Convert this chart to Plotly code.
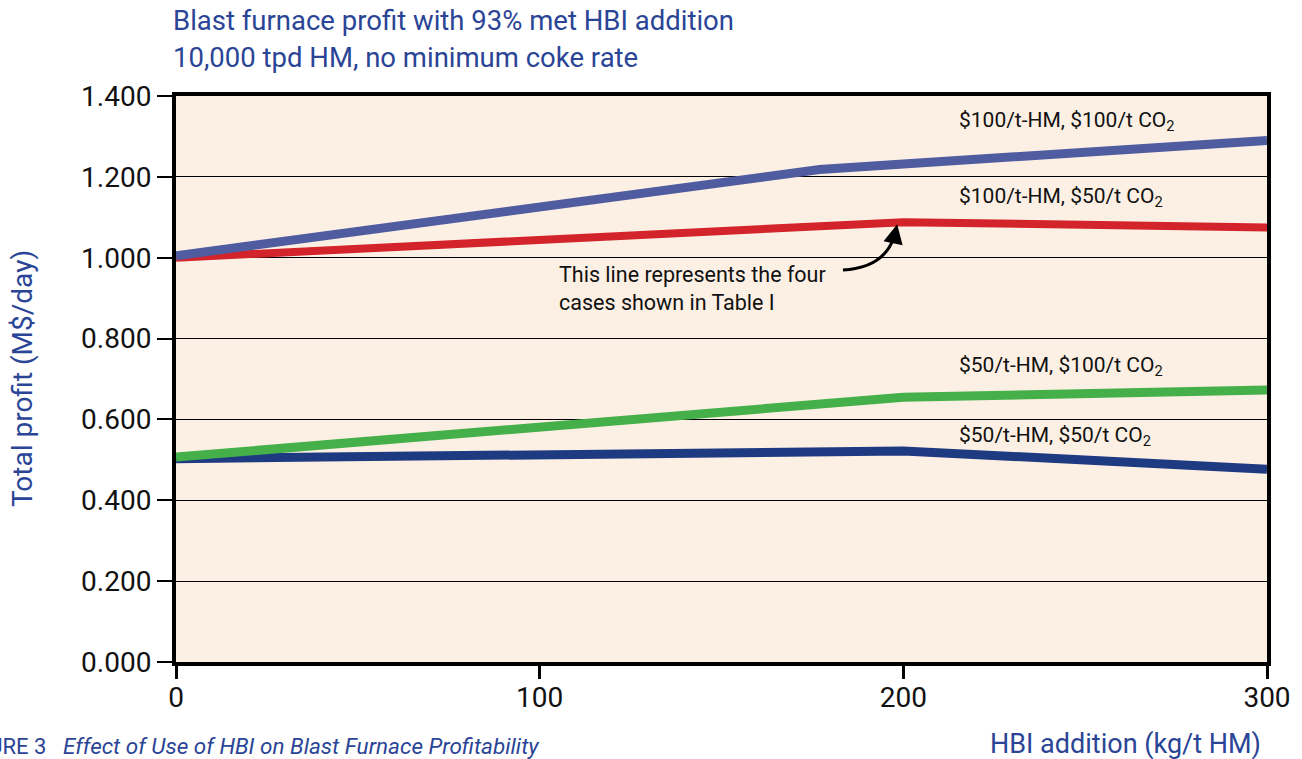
import plotly.graph_objects as go

# Data
hbi_blue = [0, 177, 200, 300]
profit_100_100 = [1.005, 1.218, 1.232, 1.290]
hbi = [0, 200, 300]
profit_100_50 = [1.000, 1.088, 1.075]
profit_50_100 = [0.507, 0.655, 0.673]
profit_50_50 = [0.503, 0.522, 0.477]

y_ticks = [0, 0.2, 0.4, 0.6, 0.8, 1.0, 1.2, 1.4]
x_ticks = [0, 100, 200, 300]

series_labels = [
    "$100/t-HM, $100/t CO<sub>2</sub>",
    "$100/t-HM, $50/t CO<sub>2</sub>",
    "$50/t-HM, $100/t CO<sub>2</sub>",
    "$50/t-HM, $50/t CO<sub>2</sub>",
]

FONT = "Roboto"
BLUE_TXT = "#2B4596"

fig = go.Figure()
fig.add_trace(go.Scatter(x=hbi, y=profit_100_50, mode="lines",
                         line=dict(color="#D3232B", width=8), name=series_labels[1]))
fig.add_trace(go.Scatter(x=hbi_blue, y=profit_100_100, mode="lines",
                         line=dict(color="#505CA0", width=9), name=series_labels[0]))
fig.add_trace(go.Scatter(x=hbi, y=profit_50_50, mode="lines",
                         line=dict(color="#1E3A80", width=9), name=series_labels[3]))
fig.add_trace(go.Scatter(x=hbi, y=profit_50_100, mode="lines",
                         line=dict(color="#45B04A", width=9), name=series_labels[2]))

# series labels
label_pos = [(214.8, 1.336), (214.8, 1.148), (214.8, 0.730), (214.8, 0.557)]
for txt, (lx, ly) in zip(series_labels, label_pos):
    fig.add_annotation(x=lx, y=ly, xref="x", yref="y", text=txt, showarrow=False,
                       xanchor="left", yanchor="middle",
                       font=dict(family=FONT, size=21, color="#111111"))

# callout
fig.add_annotation(x=104.8, y=0.925, xref="x", yref="y",
                   text="This line represents the four<br>cases shown in Table I",
                   showarrow=False, xanchor="left", yanchor="middle", align="left",
                   font=dict(family=FONT, size=21.5, color="#111111"))
fig.add_shape(type="path", xref="x", yref="y",
              path="M 183.4,0.9696 Q 194.5,0.975 197.4,1.05",
              line=dict(color="black", width=3))
fig.add_annotation(x=198.3, y=1.083, xref="x", yref="y",
                   ax=197.4, ay=1.045, axref="x", ayref="y",
                   text="", showarrow=True, arrowhead=2, arrowsize=1.3,
                   arrowwidth=3, arrowcolor="black")

# chart title (two lines)
fig.add_annotation(x=0, y=1, xref="paper", yref="paper",
                   text="Blast furnace profit with 93% met HBI addition",
                   showarrow=False, xanchor="left", yanchor="middle",
                   xshift=-5, yshift=76,
                   font=dict(family=FONT, size=27.5, color=BLUE_TXT))
fig.add_annotation(x=0, y=1, xref="paper", yref="paper",
                   text="10,000 tpd HM, no minimum coke rate",
                   showarrow=False, xanchor="left", yanchor="middle",
                   xshift=-5, yshift=39,
                   font=dict(family=FONT, size=27.5, color=BLUE_TXT))

# y-axis title
fig.add_annotation(x=0, y=0.5, xref="paper", yref="paper",
                   text="Total profit (M$/day)", showarrow=False, textangle=-90,
                   xanchor="center", yanchor="middle", xshift=-154,
                   font=dict(family=FONT, size=28, color=BLUE_TXT))

# x-axis title and caption
fig.add_annotation(x=1.0, y=0, xref="paper", yref="paper",
                   text="HBI addition (kg/t HM)", showarrow=False,
                   xanchor="right", yanchor="middle", xshift=-4, yshift=-82,
                   font=dict(family=FONT, size=27, color=BLUE_TXT))
fig.add_annotation(x=0, y=0, xref="paper", yref="paper",
                   text="FIGURE 3", showarrow=False, xanchor="right", yanchor="middle",
                   xshift=48 - 176, yshift=-84,
                   font=dict(family=FONT, size=22, color=BLUE_TXT))
fig.add_annotation(x=0, y=0, xref="paper", yref="paper",
                   text="<i>Effect of Use of HBI on Blast Furnace Profitability</i>",
                   showarrow=False, xanchor="left", yanchor="middle",
                   xshift=61 - 176, yshift=-84,
                   font=dict(family=FONT, size=22.5, color=BLUE_TXT))

fig.update_layout(
    width=1302, height=759,
    margin=dict(l=176, r=35, t=96, b=97),
    paper_bgcolor="white", plot_bgcolor="#FCF0E4",
    showlegend=False,
    font=dict(family=FONT, color="#111111"),
    xaxis=dict(range=[0, 300], tickvals=x_ticks, ticktext=[str(v) for v in x_ticks],
               showgrid=False, zeroline=False, showline=True, linecolor="black",
               linewidth=4, mirror=True, ticks="outside", ticklen=13, tickwidth=3,
               tickcolor="black", ticklabelstandoff=-6,
               tickfont=dict(family=FONT, size=28, color="#111111")),
    yaxis=dict(range=[0, 1.4], tickvals=y_ticks, tickformat=".3f",
               showgrid=True, gridcolor="black", gridwidth=1, zeroline=False,
               showline=True, linecolor="black", linewidth=4, mirror=True,
               ticks="outside", ticklen=15, tickwidth=2, tickcolor="black",
               tickfont=dict(family=FONT, size=28, color="#111111")),
)

fig.write_html("out.html", config={"displayModeBar": False},
               post_script="document.body.style.margin='0';document.body.style.overflow='hidden';")
